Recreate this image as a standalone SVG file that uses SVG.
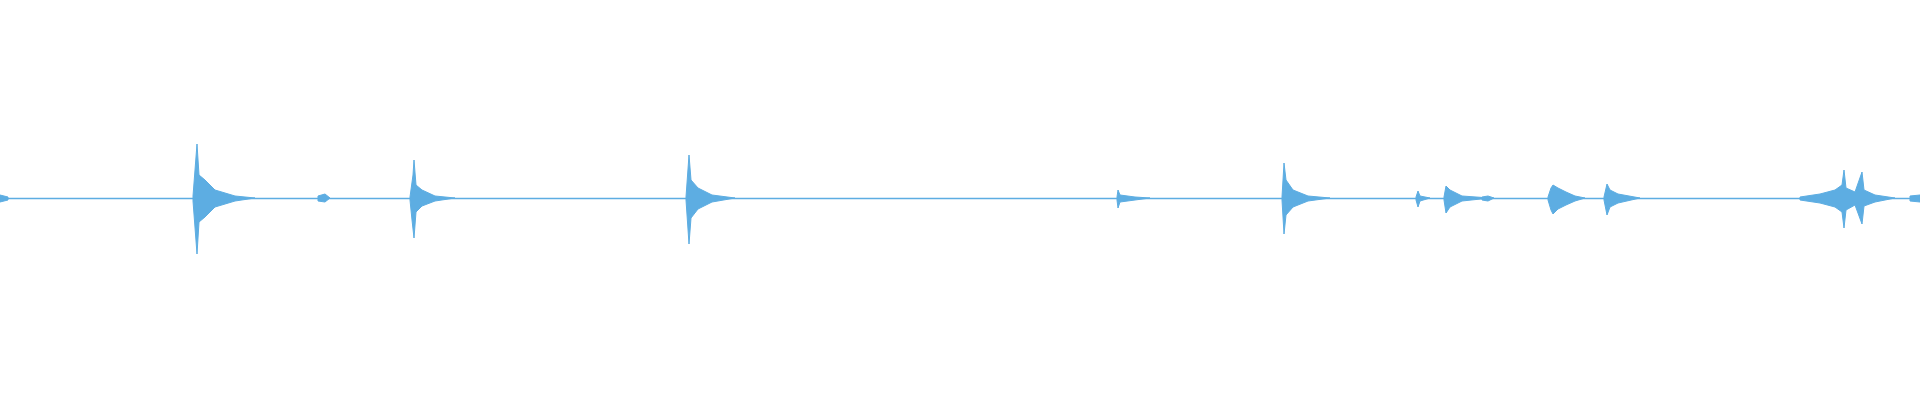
<svg xmlns="http://www.w3.org/2000/svg" width="1920" height="400" viewBox="0 0 1920 400">
<style>.w{fill:#5dade2;stroke:#5dade2;stroke-width:1}.l{stroke:#5dade2;stroke-width:1.3;fill:none}</style>
<rect width="1920" height="400" fill="#fff"/>
<g id="waveform">
<line class="l" x1="0" y1="198.5" x2="1920" y2="198.5"/>
<path class="w" d="M0,195 L8,197 L8,200 L0,202 Z"/>
<path class="w" d="M193,196 L197,144 L199,175 L205,180 L215,190 L235,196 L255,198 L235,201 L215,207 L205,217 L199,222 L197,254 L193,201 Z"/>
<path class="w" d="M318,196 L325,194 L330,198 L325,202 L318,201 Z"/>
<path class="w" d="M410,197 L413,175 L414,160 L416,185 L422,190 L435,196 L455,198 L435,201 L422,206 L416,212 L414,238 L412,220 L410,200 Z"/>
<path class="w" d="M686,197 L689,155 L691,180 L698,188 L712,195 L735,198 L712,202 L698,209 L691,218 L689,244 L686,200 Z"/>
<path class="w" d="M1117,197 L1118,190 L1120,195 L1135,197 L1150,198 L1135,200 L1120,202 L1118,208 L1117,200 Z"/>
<path class="w" d="M1282,197 L1284,163 L1286,180 L1293,190 L1308,196 L1330,198 L1308,201 L1293,207 L1286,215 L1284,234 L1282,200 Z"/>
<path class="w" d="M1416,197 L1418,191 L1420,196 L1430,198 L1420,201 L1418,207 L1416,200 Z"/>
<path class="w" d="M1444,197 L1446,186 L1450,190 L1462,196 L1490,198 L1462,201 L1450,207 L1446,213 L1444,200 Z"/>
<path class="w" d="M1482,197 L1488,196 L1494,198 L1488,201 L1482,200 Z"/>
<path class="w" d="M1548,197 L1551,188 L1553,185 L1558,188 L1566,192 L1575,196 L1585,198 L1575,201 L1566,205 L1558,209 L1553,214 L1551,210 L1548,200 Z"/>
<path class="w" d="M1604,197 L1607,184 L1610,190 L1618,194 L1640,198 L1618,203 L1610,207 L1607,215 L1604,200 Z"/>
<path class="w" d="M1800,197 L1820,194 L1835,190 L1842,185 L1844,170 L1846,188 L1855,192 L1862,172 L1864,190 L1875,195 L1895,198 L1875,202 L1864,206 L1862,224 L1855,205 L1846,210 L1844,228 L1842,212 L1835,207 L1820,203 L1800,200 Z"/>
<path class="w" d="M1910,196 L1920,195 L1920,202 L1910,201 Z"/>
</g>
</svg>
